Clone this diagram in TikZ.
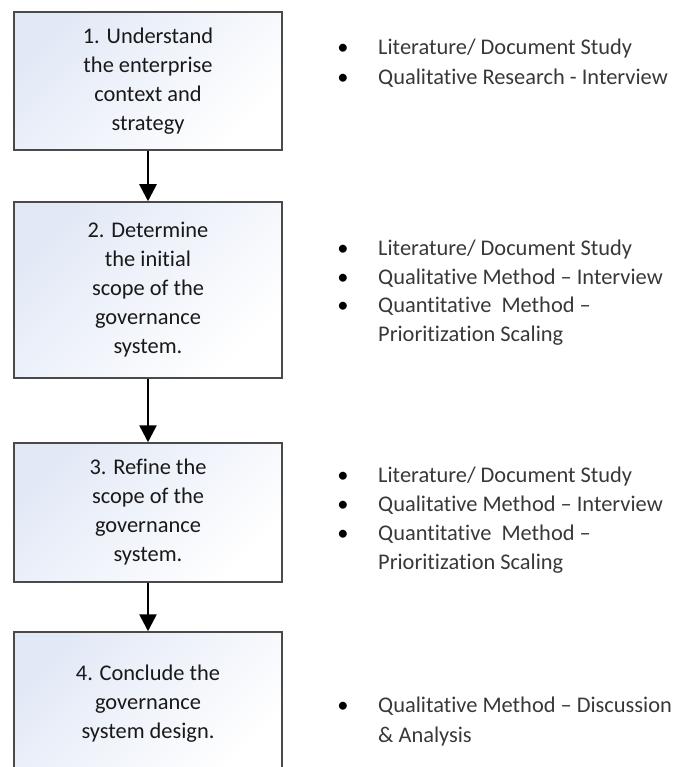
\documentclass[tikz,border=0pt]{standalone}
\usepackage{fontspec}
\setmainfont{Carlito}[Ligatures={NoCommon}]
\usetikzlibrary{arrows.meta,positioning}
\usetikzlibrary{calc}

\definecolor{boxblue}{HTML}{E2E9F6}
\definecolor{boxline}{HTML}{4A4A4A}
\definecolor{itemgray}{HTML}{383838}

\tikzset{
  stagebox/.style={draw=boxline,line width=1.5pt,top color=boxblue,bottom color=white,
    shading angle=45,minimum width=268pt,align=center,text=black!90,
    font=\fontsize{22.4}{29}\selectfont},
  flowarrow/.style={line width=2.6pt,-{Triangle[width=17pt,length=17pt]}},
  bullet/.style={anchor=base,inner sep=0pt,text=black,font=\fontsize{22.4}{29}\selectfont},
  item/.style={anchor=base west,inner sep=0pt,text=itemgray,font=\fontsize{22.4}{29}\selectfont}
}

\begin{document}
\begin{tikzpicture}[x=1pt,y=-1pt]

\useasboundingbox (0,0) rectangle (676,767);
\clip (0,0) rectangle (676,767);

% the four stages
\node[stagebox,minimum height=138pt] (S1) at (148,81) {1. Understand\\the enterprise\\context and\\strategy};
\node[stagebox,minimum height=176pt] (S2) at (148,290) {2. Determine\\the initial\\scope of the\\governance\\system.};
\node[stagebox,minimum height=139pt] (S3) at (148,512.5) {3. Refine the\\scope of the\\governance\\system.};
\node[stagebox,minimum height=143pt] (S4) at (148,703.5) {4. Conclude the\\governance\\system design.};

\draw[flowarrow] (S1) -- (S2);
\draw[flowarrow] (S2) -- (S3);
\draw[flowarrow] (S3) -- (S4);

% methods next to each stage
\node[bullet] (b11) at (343,55) {•};
\node[item] (m11) at (378,55) {Literature/ Document Study};
\node[bullet] (b12) at (343,85) {•};
\node[item] (m12) at (378,85) {Qualitative Research - Interview};

\node[bullet] (b21) at (343,255) {•};
\node[item] (m21) at (378,255) {Literature/ Document Study};
\node[bullet] (b22) at (343,284) {•};
\node[item] (m22) at (378,284) {Qualitative Method -- Interview};
\node[bullet] (b23) at (343,312) {•};
\node[item] (m23) at (378,312) {Quantitative\ \ Method --};
\node[item] (m24) at (378,341) {Prioritization Scaling};

\node[bullet] (b31) at (343,482) {•};
\node[item] (m31) at (378,482) {Literature/ Document Study};
\node[bullet] (b32) at (343,511) {•};
\node[item] (m32) at (378,511) {Qualitative Method -- Interview};
\node[bullet] (b33) at (343,540) {•};
\node[item] (m33) at (378,540) {Quantitative\ \ Method --};
\node[item] (m34) at (378,569) {Prioritization Scaling};

\node[bullet] (b41) at (343,712) {•};
\node[item] (m41) at (378,712) {Qualitative Method -- Discussion};
\node[item] (m42) at (378,742) {\& Analysis};

\end{tikzpicture}
\end{document}
